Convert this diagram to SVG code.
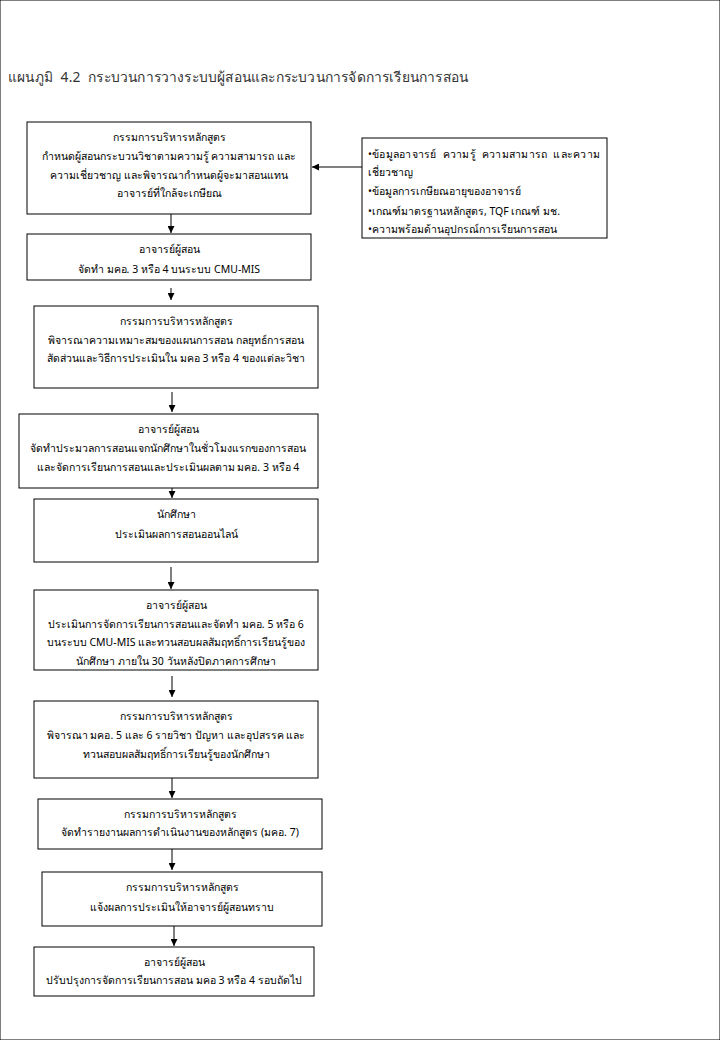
<svg xmlns="http://www.w3.org/2000/svg" width="720" height="1040" viewBox="0 0 720 1040">
<defs>
<style>
text{font-family:"Noto Sans","DejaVu Sans",sans-serif;font-size:10.5px;fill:#000;text-anchor:middle}
.title{font-size:13.8px;text-anchor:start;fill:#333;white-space:pre}
.l{text-anchor:start}
.p{white-space:pre}
rect{fill:#fff;stroke:#000;stroke-width:1}
.c{stroke:#000;stroke-width:1;fill:none;marker-end:url(#ah)}
</style>
<marker id="ah" viewBox="0 0 10 10" refX="10" refY="5" markerWidth="7" markerHeight="7" markerUnits="userSpaceOnUse" orient="auto"><path d="M0,0 L10,5 L0,10 z" fill="#000"/></marker>
</defs>
<rect width="720" height="1040" fill="#fff" stroke="none"/>
<text class="title" x="8" y="82" textLength="460" lengthAdjust="spacing" xml:space="preserve">แผนภูมิ  4.2  กระบวนการวางระบบผู้สอนและกระบวนการจัดการเรียนการสอน</text>

<g id="connectors">
<path class="c" d="M362,167 H312"/>
<path class="c" d="M171,214 V233"/>
<path class="c" d="M171,288 V300"/>
<path class="c" d="M172,392 V412"/>
<path class="c" d="M172,482 V498"/>
<path class="c" d="M171,567 V589"/>
<path class="c" d="M172,676 V697"/>
<path class="c" d="M172,778 V798"/>
<path class="c" d="M172,843 V870"/>
<path class="c" d="M174,920 V946"/>
</g>

<g id="n1"><rect x="27" y="122" width="284" height="92"/>
<text x="169" y="141">กรรมการบริหารหลักสูตร</text>
<text x="169" y="160">กำหนดผู้สอนกระบวนวิชาตามความรู้ ความสามารถ และ</text>
<text x="169" y="179">ความเชี่ยวชาญ และพิจารณากำหนดผู้จะมาสอนแทน</text>
<text x="169" y="197">อาจารย์ที่ใกล้จะเกษียณ</text></g>

<g id="side"><rect x="362" y="138" width="245" height="100"/>
<text class="l p" x="368" y="158" textLength="232" lengthAdjust="spacing" xml:space="preserve">•ข้อมูลอาจารย์  ความรู้  ความสามารถ  และความ</text>
<text class="l" x="368" y="176">เชี่ยวชาญ</text>
<text class="l" x="368" y="195">•ข้อมูลการเกษียณอายุของอาจารย์</text>
<text class="l" x="368" y="215">•เกณฑ์มาตรฐานหลักสูตร, TQF เกณฑ์ มช.</text>
<text class="l" x="368" y="233">•ความพร้อมด้านอุปกรณ์การเรียนการสอน</text></g>

<g id="n2"><rect x="27" y="234" width="284" height="46"/>
<text x="169" y="253">อาจารย์ผู้สอน</text>
<text x="169" y="273">จัดทำ มคอ. 3 หรือ 4 บนระบบ CMU-MIS</text></g>

<g id="n3"><rect x="34" y="306" width="284" height="82"/>
<text x="176" y="325">กรรมการบริหารหลักสูตร</text>
<text x="176" y="344">พิจารณาความเหมาะสมของแผนการสอน กลยุทธ์การสอน</text>
<text x="176" y="362">สัดส่วนและวิธีการประเมินใน มคอ 3 หรือ 4 ของแต่ละวิชา</text></g>

<g id="n4"><rect x="19" y="414" width="299" height="74"/>
<text x="168" y="433">อาจารย์ผู้สอน</text>
<text x="168" y="452">จัดทำประมวลการสอนแจกนักศึกษาในชั่วโมงแรกของการสอน</text>
<text x="168" y="471">และจัดการเรียนการสอนและประเมินผลตาม มคอ. 3 หรือ 4</text></g>

<g id="n5"><rect x="34" y="499" width="284" height="63"/>
<text x="176" y="518">นักศึกษา</text>
<text x="176" y="538">ประเมินผลการสอนออนไลน์</text></g>

<g id="n6"><rect x="34" y="590" width="284" height="80"/>
<text x="176" y="609">อาจารย์ผู้สอน</text>
<text x="176" y="628">ประเมินการจัดการเรียนการสอนและจัดทำ มคอ. 5 หรือ 6</text>
<text x="176" y="646">บนระบบ CMU-MIS และทวนสอบผลสัมฤทธิ์การเรียนรู้ของ</text>
<text x="176" y="665">นักศึกษา ภายใน 30 วันหลังปิดภาคการศึกษา</text></g>

<g id="n7"><rect x="34" y="701" width="284" height="77"/>
<text x="176" y="720">กรรมการบริหารหลักสูตร</text>
<text x="176" y="739">พิจารณา มคอ. 5 และ 6 รายวิชา ปัญหา และอุปสรรค และ</text>
<text x="176" y="758">ทวนสอบผลสัมฤทธิ์การเรียนรู้ของนักศึกษา</text></g>

<g id="n8"><rect x="38" y="799" width="284" height="50"/>
<text x="180" y="818">กรรมการบริหารหลักสูตร</text>
<text x="180" y="836">จัดทำรายงานผลการดำเนินงานของหลักสูตร (มคอ. 7)</text></g>

<g id="n9"><rect x="42" y="872" width="280" height="54"/>
<text x="182" y="891">กรรมการบริหารหลักสูตร</text>
<text x="182" y="911">แจ้งผลการประเมินให้อาจารย์ผู้สอนทราบ</text></g>

<g id="n10"><rect x="34" y="947" width="280" height="49"/>
<text x="174" y="966">อาจารย์ผู้สอน</text>
<text x="174" y="984">ปรับปรุงการจัดการเรียนการสอน มคอ 3 หรือ 4 รอบถัดไป</text></g>
</svg>
